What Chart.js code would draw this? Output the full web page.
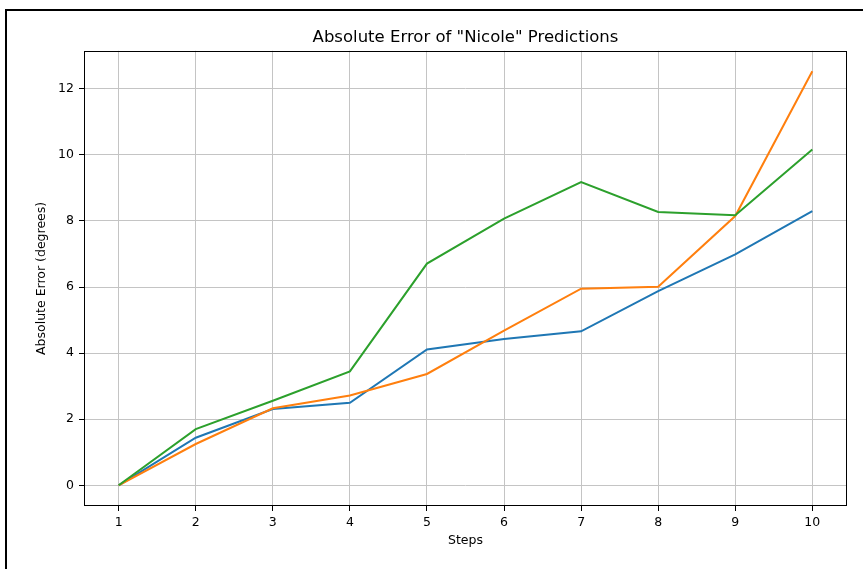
<!DOCTYPE html>
<html>
<head>
<meta charset="utf-8">
<script src="https://cdn.jsdelivr.net/npm/chart.js@4/dist/chart.umd.min.js"></script>
<style>
  html, body { margin: 0; padding: 0; background: #fff; }
  #frame { position: absolute; left: 5px; top: 9px; width: 860px; height: 562px;
           border-left: 2px solid #000; border-top: 2px solid #000; }
  #myChart { position: absolute; left: 0; top: 0; }
</style>
</head>
<body>
<div id="frame"></div>
<canvas id="myChart" width="863" height="569"></canvas>
<script>
// data
const steps = [1, 2, 3, 4, 5, 6, 7, 8, 9, 10];
const blueErr = [0, 1.44, 2.31, 2.50, 4.11, 4.43, 4.66, 5.88, 6.99, 8.30];
const orangeErr = [0, 1.25, 2.33, 2.72, 3.37, 4.68, 5.95, 6.01, 8.15, 12.53];
const greenErr = [0, 1.70, 2.56, 3.45, 6.71, 8.07, 9.18, 8.27, 8.17, 10.16];
const yTicks = [0, 2, 4, 6, 8, 10, 12];

const toPts = (ys) => steps.map((x, i) => ({ x: x, y: ys[i] }));

Chart.defaults.font.family = 'DejaVu Sans';
Chart.defaults.color = '#000';

// matplotlib-style box round the plot
const frameBox = {
  id: 'frameBox',
  afterDraw(chart) {
    const a = chart.chartArea;
    const c = chart.ctx;
    c.save();
    c.strokeStyle = '#000';
    c.lineWidth = 1;
    const l = Math.round(a.left) + 0.5, t = Math.round(a.top) + 0.5;
    const r = Math.round(a.right) - 0.5, b = Math.round(a.bottom) - 0.5;
    c.strokeRect(l, t, r - l, b - t);
    c.restore();
  }
};

const ctx = document.getElementById('myChart');

new Chart(ctx, {
  type: 'line',
  data: {
    datasets: [
      { data: toPts(blueErr), borderColor: '#1f77b4', order: 3 },
      { data: toPts(orangeErr), borderColor: '#ff7f0e', order: 2 },
      { data: toPts(greenErr), borderColor: '#2ca02c', order: 1 }
    ]
  },
  options: {
    responsive: false,
    animation: false,
    elements: {
      line: { borderWidth: 2, tension: 0 },
      point: { radius: 0, hoverRadius: 0 }
    },
    layout: { padding: { left: 0, right: 16, top: 0, bottom: 0 } },
    plugins: {
      legend: { display: false },
      tooltip: { enabled: false },
      title: {
        display: true,
        text: 'Absolute Error of "Nicole" Predictions',
        fullSize: false,
        font: { size: 16.5, weight: 'normal' },
        padding: { top: 28, bottom: 3 }
      }
    },
    scales: {
      x: {
        type: 'linear',
        min: 0.55,
        max: 10.45,
        afterBuildTicks: (s) => { s.ticks = steps.map(v => ({ value: v })); },
        afterFit: (s) => { s.height = 63; },
        ticks: { font: { size: 12.5 }, padding: 4.5, maxRotation: 0 },
        grid: { color: '#c4c4c4', lineWidth: 1, tickLength: 5, tickColor: '#000' },
        border: { display: false },
        title: { display: true, text: 'Steps', font: { size: 12.5 }, padding: { top: 0, bottom: 20.8 } }
      },
      y: {
        min: -0.626,
        max: 13.15,
        afterBuildTicks: (s) => { s.ticks = yTicks.map(v => ({ value: v })); },
        afterFit: (s) => { s.width = 84; },
        ticks: { font: { size: 12.5 }, padding: 5 },
        grid: { color: '#c4c4c4', lineWidth: 1, tickLength: 5, tickColor: '#000' },
        border: { display: false },
        title: { display: true, text: 'Absolute Error (degrees)', font: { size: 12.5 }, padding: { top: 34.5, bottom: 0 } }
      }
    }
  },
  plugins: [frameBox]
});
</script>
</body>
</html>
